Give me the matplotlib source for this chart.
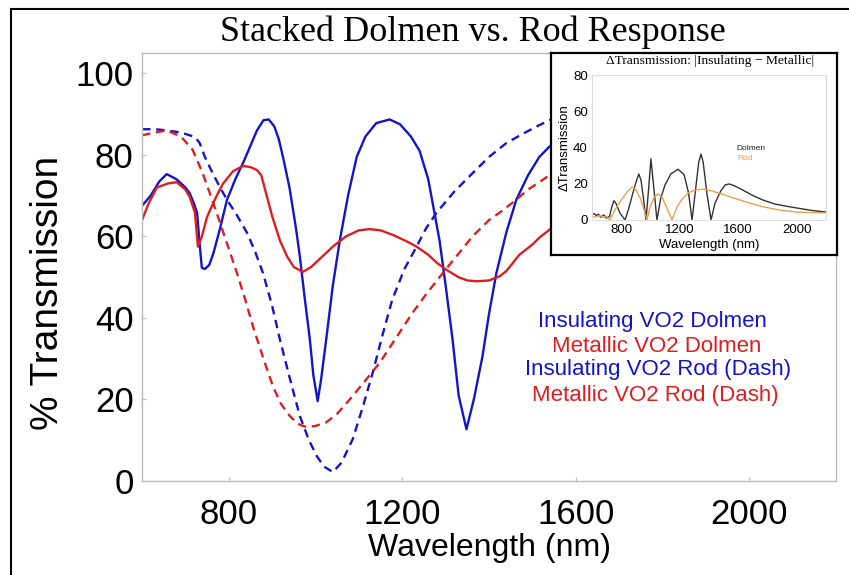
import matplotlib
matplotlib.use("Agg")
import matplotlib.pyplot as plt
from matplotlib import font_manager as fm
from matplotlib.patches import Rectangle

# ---------------- data ----------------
ins_dolmen_wl = [600, 620, 640, 657, 680, 700, 710, 720, 727, 733, 738, 745, 755, 765, 780, 796, 815, 835,
                 849, 865, 880, 892, 905, 915, 925, 940, 955, 964, 975, 987, 995, 1005, 1013, 1025, 1040,
                 1056, 1075, 1095, 1115, 1140, 1171, 1195, 1220, 1240, 1260, 1286, 1300, 1316, 1330, 1348,
                 1365, 1385, 1400, 1417, 1440, 1463, 1490, 1516, 1539, 1570, 1600, 1700, 1800, 1900, 2000,
                 2100, 2200]
ins_dolmen_t = [67.5, 70, 73.5, 75.3, 74, 72, 70.6, 68, 65.8, 58, 52.3, 52, 53, 56, 62, 69, 74, 78.5,
                82, 86, 88.5, 88.7, 87, 84, 79.5, 72, 62, 55, 45, 34.7, 26, 19.6, 25, 35, 48,
                59, 70, 79.5, 84.5, 87.8, 88.7, 87.5, 84.5, 81, 74, 59, 48, 34.7, 21, 12.7,
                20, 30.6, 41, 51, 61, 69, 75, 79.5, 82, 84.5, 86, 87, 86, 84.5, 83,
                82, 81]

met_dolmen_wl = [600, 615, 634, 660, 680, 700, 710, 722, 729, 738, 750, 770, 787, 810, 833, 850, 865, 875,
                 885, 900, 918, 935, 950, 971, 990, 1010, 1040, 1070, 1100, 1125, 1150, 1180, 1210, 1233,
                 1260, 1280, 1302, 1330, 1350, 1371, 1400, 1424, 1440, 1470, 1500, 1516, 1539, 1570, 1600,
                 1700, 1800, 1900, 2000, 2100, 2200]
met_dolmen_t = [64, 68, 72, 73, 73.3, 71.5, 69.7, 65.8, 57.5, 60, 64.8, 69.5, 73, 76, 77.3, 77, 76.3, 75,
                71, 65, 59, 55, 52.5, 51.3, 52.5, 54.5, 57.5, 60, 61.5, 61.8, 61.5, 60.3, 58.8, 57.5,
                55.5, 53.5, 51.8, 50, 49.2, 49, 49.2, 50.2, 51.5, 55.5, 58, 59.7, 61.6, 64.5, 67,
                72.5, 75, 76, 76.5, 77, 76.6]

ins_rod_wl = [600, 630, 657, 690, 722, 733, 745, 763, 780, 796, 820, 842, 860, 879, 900, 918, 940, 964,
              985, 1003, 1020, 1040, 1060, 1086, 1110, 1132, 1155, 1177, 1205, 1233, 1255, 1279, 1320,
              1362, 1400, 1440, 1480, 1516, 1539, 1600, 1700, 1800, 2000, 2200]
ins_rod_t = [86.3, 86.3, 86, 85.5, 84.4, 82.9, 79.5, 75.5, 72, 69, 65, 60.9, 56.5, 51, 43, 34.7, 25.5, 15.9,
             10, 6.1, 3.5, 2.2, 4.5, 10.3, 18.5, 26.6, 36, 44.5, 52, 57.5, 62, 65.8, 71,
             75.5, 79.5, 82.9, 85.3, 87.3, 88.5, 90, 91, 91, 90, 89]

met_rod_wl = [600, 630, 657, 690, 717, 740, 760, 780, 800, 819, 838, 856, 880, 902, 920, 941, 960, 979,
              1000, 1025, 1050, 1079, 1110, 1148, 1185, 1224, 1255, 1286, 1320, 1362, 1400, 1424, 1463,
              1490, 1516, 1539, 1600, 1700, 1800, 2000, 2200]
met_rod_t = [84.8, 85.5, 86, 84.5, 81.2, 75.5, 69.5, 63.3, 57, 51, 44.5, 37.9, 30, 23.2, 19, 15.9, 14, 13.2,
             13.5, 14.4, 16.5, 20, 24, 29, 35, 41.3, 45.8, 50, 54.5, 60, 64, 65.8, 69,
             71.5, 73.3, 75, 80, 83, 84, 85.6, 85.1]

# inset: |Insulating - Metallic|
d_dolmen_wl = [600, 615, 630, 645, 660, 680, 700, 720, 735, 750, 765, 790, 826, 850, 880, 905, 920, 935,
               955, 969, 985, 1003, 1020, 1044, 1070, 1100, 1140, 1188, 1230, 1260, 1284, 1310, 1330,
               1345, 1360, 1385, 1414, 1440, 1480, 1510, 1537, 1570, 1620, 1700, 1769, 1850, 1950, 2002,
               2100, 2200]
d_dolmen = [3, 3.5, 2.5, 3.2, 1.5, 2.8, 1, 2, 7, 10.7, 9, 4, 0, 6, 15, 22, 25.4, 22,
            10, 0, 15, 33.7, 20, 0, 12, 19.5, 25.5, 28, 25, 15, 0, 18, 32,
            36.4, 32, 15, 0, 9, 16, 19.3, 19.9, 19, 17, 13.5, 11, 8.8, 7.3, 6.6,
            5.3, 4.4]

d_rod_wl = [600, 620, 650, 680, 700, 723, 760, 800, 840, 873, 900, 930, 955, 976, 1000, 1025, 1051, 1080,
            1110, 1147, 1180, 1220, 1260, 1300, 1359, 1420, 1480, 1544, 1650, 1769, 1880, 2002, 2100, 2200]
d_rod = [2, 1.5, 2.5, 1.5, 2, 0, 6, 11, 15.5, 18.2, 17, 12, 6, 0, 8, 12.5, 14.4, 12.5,
         7, 0, 7, 12, 15, 16.5, 17, 16, 14.5, 12.8, 10, 7.3, 5.5, 4.4, 4.1, 3.9]

x_ticks = [800, 1200, 1600, 2000]
y_ticks = [0, 20, 40, 60, 80, 100]
inset_y_ticks = [0, 20, 40, 60, 80]

legend_lines = ["Insulating VO2 Dolmen", "Metallic VO2 Dolmen",
                "Insulating VO2 Rod (Dash)", "Metallic VO2 Rod (Dash)"]

# ---------------- styling ----------------
BLUE = "#1414C8"
RED = "#DC1E1E"
W, H = 849, 575

avail = {f.name for f in fm.fontManager.ttflist}
narrow = "Liberation Sans Narrow" in avail
SANS = ["Liberation Sans Narrow", "Liberation Sans", "DejaVu Sans"] if narrow else ["Liberation Sans", "DejaVu Sans"]
REG = ["Liberation Sans", "DejaVu Sans"]
SERIF = ["Liberation Serif", "DejaVu Serif"]
tick_fs = 30 if narrow else 25
lab_fs = 28 if narrow else 23
ylab_fs = 34 if narrow else 28

fig = plt.figure(figsize=(W / 100, H / 100), dpi=100)


def px(x0, y0, x1, y1):
    return [x0 / W, 1 - y1 / H, (x1 - x0) / W, (y1 - y0) / H]


# outer frame
fig.patches.append(Rectangle((11 / W, -0.05), 1.2, 1 - 9 / H + 0.05, transform=fig.transFigure,
                             fill=False, edgecolor="black", linewidth=1.5))

ax = fig.add_axes(px(142, 53, 836, 481))
ls_dash = (0, (3.6, 2.4))
ax.plot(ins_dolmen_wl, ins_dolmen_t, color=BLUE, lw=1.7)
ax.plot(met_dolmen_wl, met_dolmen_t, color=RED, lw=1.7)
ax.plot(ins_rod_wl, ins_rod_t, color=BLUE, lw=1.7, linestyle=ls_dash)
ax.plot(met_rod_wl, met_rod_t, color=RED, lw=1.7, linestyle=ls_dash)
ax.set_xlim(600, 2200)
ax.set_ylim(0, 105)
ax.set_xticks(x_ticks)
ax.set_yticks(y_ticks)
for s in ax.spines.values():
    s.set_color("#BBBBBB")
    s.set_linewidth(1)
ax.tick_params(direction="in", length=3, color="#BBBBBB", width=0.8)
ax.tick_params(axis="y", pad=6)
ax.tick_params(axis="x", pad=12)
for lab in ax.get_xticklabels() + ax.get_yticklabels():
    lab.set_family(SANS)
    lab.set_fontsize(tick_fs)
ax.set_xlabel("Wavelength (nm)", family=SANS, fontsize=lab_fs, labelpad=2)
ax.set_ylabel("% Transmission", family=SANS, fontsize=ylab_fs)
ax.yaxis.set_label_coords((66 - 142) / 694, 0.44)

fig.text(473 / W, 1 - 32 / H, "Stacked Dolmen vs. Rod Response", family=SERIF, fontsize=26,
         ha="center", va="center")

leg_pos = [(652, 322), (657, 346), (658, 370), (655, 395)]
leg_col = [BLUE, RED, BLUE, RED]
for (lx, ly), txt, c in zip(leg_pos, legend_lines, leg_col):
    fig.text(lx / W, 1 - ly / H, txt, color=c, family=REG, fontsize=16, ha="center", va="center")

# inset frame
axf = fig.add_axes(px(551, 53, 837, 255))
axf.set_xticks([])
axf.set_yticks([])
axf.set_facecolor("white")
for s in axf.spines.values():
    s.set_color("black")
    s.set_linewidth(1.6)

axi = fig.add_axes(px(592, 75, 826, 220))
axi.plot(d_dolmen_wl, d_dolmen, color="#333333", lw=1.0)
axi.plot(d_rod_wl, d_rod, color="#E9A04F", lw=1.0)
axi.set_xlim(600, 2200)
axi.set_ylim(0, 80)
axi.set_xticks(x_ticks)
axi.set_yticks(inset_y_ticks)
for s in axi.spines.values():
    s.set_color("#DDDDDD")
    s.set_linewidth(0.8)
axi.tick_params(length=0, pad=3)
for lab in axi.get_xticklabels() + axi.get_yticklabels():
    lab.set_family(REG)
    lab.set_fontsize(9.5)
axi.set_xlabel("Wavelength (nm)", family=REG, fontsize=9.5, labelpad=2)
axi.set_ylabel("\u0394Transmission", family=REG, fontsize=9.5, labelpad=2)
fig.text(710 / W, 1 - 61 / H, "\u0394Transmission: |Insulating \u2212 Metallic|", family=SERIF,
         fontsize=9.7, ha="center", va="center")
fig.text(736 / W, 1 - 149 / H, "Dolmen", family=REG, fontsize=6, color="#222222", va="center")
fig.text(737 / W, 1 - 158 / H, "Rod", family=REG, fontsize=6, color="#E9A04F", va="center")

fig.savefig("out.png", dpi=100)
